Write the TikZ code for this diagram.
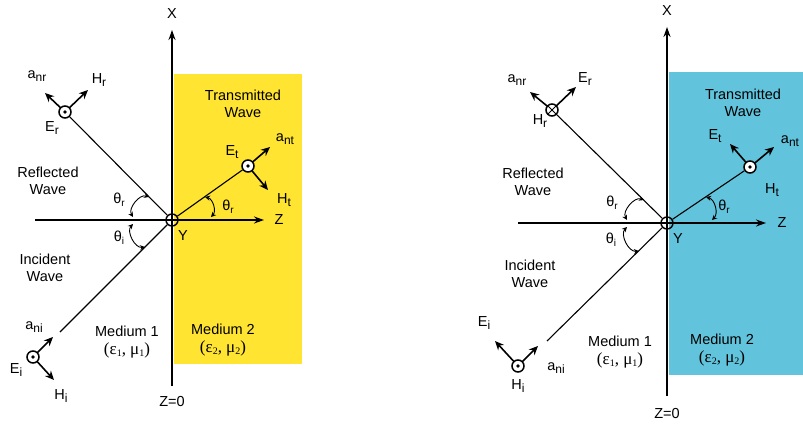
\documentclass[tikz,border=0pt]{standalone}
\usepackage{fontspec}
\setmainfont{Liberation Sans}
\newfontfamily\serifgr{Liberation Serif}
\usetikzlibrary{arrows.meta}
\definecolor{medyellow}{RGB}{255,228,50}
\definecolor{medcyan}{RGB}{98,196,220}
\newcommand\sbs[1]{\raisebox{-0.45ex}{\fontsize{12}{13}\selectfont #1}}
\newcommand\gsb[1]{\raisebox{-0.35ex}{\fontsize{10}{11}\selectfont #1}}
\newcommand\medp[2]{{\fontsize{17}{18}\selectfont\serifgr(ε\gsb{#1}, μ\gsb{#2})}}
\tikzset{
  lbl/.style={inner sep=0pt, font=\fontsize{14.5}{17.5}\selectfont, align=center},
  axis/.style={line width=1.7pt, -{Stealth[length=10pt,width=7pt]}},
  wave/.style={line width=1.1pt},
  vec/.style={line width=1.6pt, -{Stealth[length=9pt,width=8pt]}, shorten <=-0.5pt},
  angarc/.style={line width=0.9pt, {Stealth[length=5pt,width=5pt]}-{Stealth[length=5pt,width=5pt]}},
  dotpt/.style={circle, draw, line width=1.5pt, fill=white, minimum size=12pt, inner sep=0pt,
    path picture={\fill[black] (path picture bounding box.center) circle (1.8pt);}},
  crosspt/.style={circle, draw, line width=1.5pt, fill=white, minimum size=12pt, inner sep=0pt,
    path picture={\draw[black,line width=1pt] (path picture bounding box.south west) -- (path picture bounding box.north east)
      (path picture bounding box.north west) -- (path picture bounding box.south east);}},
  originpt/.style={circle, draw, line width=1.4pt, minimum size=12pt, inner sep=0pt,
    path picture={\fill[black] (path picture bounding box.center) circle (1.8pt);}},
}
\begin{document}
\begin{tikzpicture}[x=1pt,y=-1pt]
\useasboundingbox (0,0) rectangle (803,428);
% ================= LEFT DIAGRAM =================
\fill[medyellow] (174,74) rectangle (302,364);
\coordinate (LXb) at (172,386);
\coordinate (LXt) at (172,30);
\coordinate (LZl) at (35,220);
\coordinate (LZr) at (264,220);
\draw[axis] (LXb) -- (LXt);
\draw[axis] (LZl) -- (LZr);
\node[originpt] (LO) at (172,220) {};
\node[dotpt] (LR) at (65,112) {};
\node[dotpt] (LT) at (248,166) {};
\node[dotpt] (LI) at (33,357) {};
\coordinate (LIs) at (60,332);
\draw[wave] (LO) -- (LR);
\draw[wave] (LO) -- (LT);
\draw[wave] (LO) -- (LIs);
\coordinate (LanrT) at (45,93);
\coordinate (LHrT) at (88,90);
\coordinate (LantT) at (270,147);
\coordinate (LHtT) at (268,190);
\coordinate (LaniT) at (53,337);
\coordinate (LHiT) at (54,380);
\draw[vec] (LR) -- (LanrT);
\draw[vec] (LR) -- (LHrT);
\draw[vec] (LT) -- (LantT);
\draw[vec] (LT) -- (LHtT);
\draw[vec] (LI) -- (LaniT);
\draw[vec] (LI) -- (LHiT);
% angle arcs
\coordinate (La1) at (149,197);
\coordinate (La2) at (133,217);
\coordinate (La3) at (133,224);
\coordinate (La4) at (145,247);
\coordinate (La5) at (205,197);
\coordinate (La6) at (211,217);
\draw[angarc] (La1) to[bend right=70] (La2);
\draw[angarc] (La3) to[bend right=70] (La4);
\draw[angarc] (La5) to[bend left=60] (La6);
% labels
\node[lbl] (LXl) at (172,14) {X};
\node[lbl] (LZlab) at (279,220) {Z};
\node[lbl] (LYl) at (183,236) {Y};
\node[lbl] (LZ0) at (172,402) {Z=0};
\node[lbl] (Lthr) at (119,200) {θ\gsb{r}};
\node[lbl] (Lthi) at (119,238) {θ\gsb{i}};
\node[lbl] (Ltht) at (228,207) {θ\gsb{r}};
\node[lbl] (Lrefl) at (48,181) {Reflected\\Wave};
\node[lbl] (Ltrans) at (243,104) {Transmitted\\Wave};
\node[lbl] (Linc) at (45,268) {Incident\\Wave};
\node[lbl] (Lm1) at (127,342) {Medium 1\\\medp{1}{1}};
\node[lbl] (Lm2) at (223,340) {Medium 2\\\medp{2}{2}};
\node[lbl] (Lanr) at (37,76) {a\sbs{nr}};
\node[lbl] (LHr) at (99,80) {H\sbs{r}};
\node[lbl] (LEr) at (52,128) {E\sbs{r}};
\node[lbl] (LEt) at (232,152) {E\sbs{t}};
\node[lbl] (Lant) at (285,139) {a\sbs{nt}};
\node[lbl] (LHt) at (284,200) {H\sbs{t}};
\node[lbl] (Lani) at (34,327) {a\sbs{ni}};
\node[lbl] (LEi) at (16,370) {E\sbs{i}};
\node[lbl] (LHi) at (61,396) {H\sbs{i}};
% ================= RIGHT DIAGRAM =================
\fill[medcyan] (669,72) rectangle (803,375);
\coordinate (RXb) at (667,396);
\coordinate (RXt) at (667,27);
\coordinate (RZl) at (518,223);
\coordinate (RZr) at (766,223);
\draw[axis] (RXb) -- (RXt);
\draw[axis] (RZl) -- (RZr);
\node[originpt] (RO) at (667,223) {};
\node[crosspt] (RR) at (552,110) {};
\node[dotpt] (RT) at (750,167) {};
\node[dotpt] (RI) at (518,366) {};
\coordinate (RIs) at (547,341);
\draw[wave] (RO) -- (RR);
\draw[wave] (RO) -- (RT);
\draw[wave] (RO) -- (RIs);
\coordinate (RanrT) at (530,92);
\coordinate (RErT) at (576,87);
\coordinate (REtT) at (730,144);
\coordinate (RantT) at (774,147);
\coordinate (REiT) at (495,341);
\coordinate (RaniT) at (538,346);
\draw[vec] (RR) -- (RanrT);
\draw[vec] (RR) -- (RErT);
\draw[vec] (RT) -- (REtT);
\draw[vec] (RT) -- (RantT);
\draw[vec] (RI) -- (REiT);
\draw[vec] (RI) -- (RaniT);
% angle arcs
\coordinate (Ra1) at (644,200);
\coordinate (Ra2) at (627,220);
\coordinate (Ra3) at (627,227);
\coordinate (Ra4) at (639,251);
\coordinate (Ra5) at (706,197);
\coordinate (Ra6) at (712,220);
\draw[angarc] (Ra1) to[bend right=70] (Ra2);
\draw[angarc] (Ra3) to[bend right=70] (Ra4);
\draw[angarc] (Ra5) to[bend left=60] (Ra6);
% labels
\node[lbl] (RXl) at (667,11) {X};
\node[lbl] (RZlab) at (782,223) {Z};
\node[lbl] (RYl) at (678,239) {Y};
\node[lbl] (RZ0) at (667,414) {Z=0};
\node[lbl] (Rthr) at (612,203) {θ\gsb{r}};
\node[lbl] (Rthi) at (611,240) {θ\gsb{i}};
\node[lbl] (Rtht) at (724,207) {θ\gsb{r}};
\node[lbl] (Rrefl) at (533,182) {Reflected\\Wave};
\node[lbl] (Rtrans) at (743,103) {Transmitted\\Wave};
\node[lbl] (Rinc) at (530,274) {Incident\\Wave};
\node[lbl] (Rm1) at (620,352) {Medium 1\\\medp{1}{1}};
\node[lbl] (Rm2) at (722,350) {Medium 2\\\medp{2}{2}};
\node[lbl] (Ranr) at (517,80) {a\sbs{nr}};
\node[lbl] (REr) at (585,79) {E\sbs{r}};
\node[lbl] (RHr) at (540,121) {H\sbs{r}};
\node[lbl] (REt) at (715,136) {E\sbs{t}};
\node[lbl] (Rant) at (790,141) {a\sbs{nt}};
\node[lbl] (RHt) at (772,190) {H\sbs{t}};
\node[lbl] (REi) at (484,323) {E\sbs{i}};
\node[lbl] (Rani) at (556,368) {a\sbs{ni}};
\node[lbl] (RHi) at (518,386) {H\sbs{i}};
\end{tikzpicture}
\end{document}
